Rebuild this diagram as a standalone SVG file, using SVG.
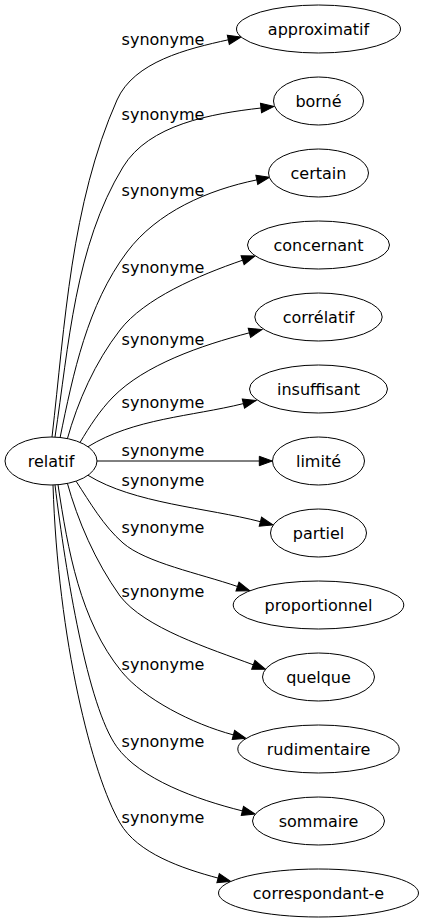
<svg xmlns="http://www.w3.org/2000/svg" width="422" height="923" viewBox="0 0 422 923">
<style>
.n ellipse{fill:#fff;stroke:#000;stroke-width:1}
text{font-family:"DejaVu Sans","Liberation Sans",sans-serif;font-size:16px;fill:#000;text-anchor:middle}
.e path{fill:none;stroke:#000;stroke-width:1;marker-end:url(#ah)}
</style>
<defs>
<marker id="ah" viewBox="-1 -6 15 12" refX="0" refY="0" markerWidth="15" markerHeight="12" markerUnits="userSpaceOnUse" orient="auto" overflow="visible">
<path d="M0,-4.7 L13,0 L0,4.7 Z" fill="#000" stroke="#000" stroke-width="1"/>
</marker>
</defs>
<rect width="422" height="923" fill="#fff"/>
<g id="edges" class="e">
<path d="M52,437 C65.1,323.8 70.8,204.2 117,100 C134,61.6 187.3,48.8 228.3,39.8"/>
<path d="M55,437 C68.9,345.2 74.7,246.3 123,167 C149,124.3 211.4,113.7 261,108"/>
<path d="M60,438 C73.2,373.3 87.4,304.8 127,252 C157,212 207.8,189.9 256.8,179.9"/>
<path d="M67,440 C77.9,400.8 95.1,362.2 120,330 C144.5,298.4 198.2,275.5 242.6,260.2"/>
<path d="M80,442.5 C89.5,426.6 99.8,410.5 113,397 C144.5,364.9 201,345.4 249.4,332.8"/>
<path d="M88,446.7 C133.7,418.5 191.2,416.5 243.4,403.6"/>
<path d="M97,461 L259.3,461"/>
<path d="M88,475.3 C133.7,503.5 207.2,507.8 260.4,521.7"/>
<path d="M76,481.1 C90.3,502.8 103.4,525.9 123,543 C145.6,562.7 199.7,573.5 237.5,586.5"/>
<path d="M67,482 C77.9,521.2 95.1,561 120,596 C144.5,628 209.2,648.4 253.3,664.8"/>
<path d="M58,484.7 C67.9,549.9 80,620.7 121.7,671.7 C143.9,698.8 192,723.8 233.4,734.9"/>
<path d="M55,484.9 C65.8,574 87.7,706.2 116.7,746.7 C139.9,779.1 196.8,799.6 242.4,810.9"/>
<path d="M53,485 C58,640 92,775 120,823 C137.5,853.3 181.9,868.4 218.1,878.1"/>
</g>
<g id="edge-labels">
<text x="163" y="45">synonyme</text>
<text x="163" y="119.5">synonyme</text>
<text x="163" y="196">synonyme</text>
<text x="163" y="272.5">synonyme</text>
<text x="163" y="344.5">synonyme</text>
<text x="163" y="408">synonyme</text>
<text x="163" y="456">synonyme</text>
<text x="163" y="486">synonyme</text>
<text x="163" y="533">synonyme</text>
<text x="163" y="597">synonyme</text>
<text x="163" y="670">synonyme</text>
<text x="163" y="747">synonyme</text>
<text x="163" y="823">synonyme</text>
</g>
<g id="relatif" class="n"><ellipse cx="51" cy="461" rx="46" ry="24"/><text x="51" y="466.5">relatif</text></g>
<g id="approximatif" class="n"><ellipse cx="318.5" cy="29" rx="82" ry="24"/><text x="318.5" y="34.5">approximatif</text></g>
<g id="borne" class="n"><ellipse cx="318.5" cy="101" rx="45" ry="24"/><text x="318.5" y="106.5">borné</text></g>
<g id="certain" class="n"><ellipse cx="318.5" cy="173" rx="50" ry="24"/><text x="318.5" y="178.5">certain</text></g>
<g id="concernant" class="n"><ellipse cx="318.5" cy="245" rx="71" ry="24"/><text x="318.5" y="250.5">concernant</text></g>
<g id="correlatif" class="n"><ellipse cx="318.5" cy="317" rx="63.7" ry="24"/><text x="318.5" y="322.5">corrélatif</text></g>
<g id="insuffisant" class="n"><ellipse cx="318.5" cy="389" rx="69" ry="24"/><text x="318.5" y="394.5">insuffisant</text></g>
<g id="limite" class="n"><ellipse cx="318.5" cy="461" rx="46" ry="24"/><text x="318.5" y="466.5">limité</text></g>
<g id="partiel" class="n"><ellipse cx="318.5" cy="533" rx="48" ry="24"/><text x="318.5" y="538.5">partiel</text></g>
<g id="proportionnel" class="n"><ellipse cx="318.5" cy="605" rx="85.3" ry="24"/><text x="318.5" y="610.5">proportionnel</text></g>
<g id="quelque" class="n"><ellipse cx="318.5" cy="677" rx="56" ry="24"/><text x="318.5" y="682.5">quelque</text></g>
<g id="rudimentaire" class="n"><ellipse cx="318.5" cy="749" rx="80.7" ry="24"/><text x="318.5" y="754.5">rudimentaire</text></g>
<g id="sommaire" class="n"><ellipse cx="318.5" cy="821" rx="66" ry="24"/><text x="318.5" y="826.5">sommaire</text></g>
<g id="correspondant-e" class="n"><ellipse cx="318.5" cy="893" rx="100" ry="24"/><text x="318.5" y="898.5">correspondant-e</text></g>
</svg>
